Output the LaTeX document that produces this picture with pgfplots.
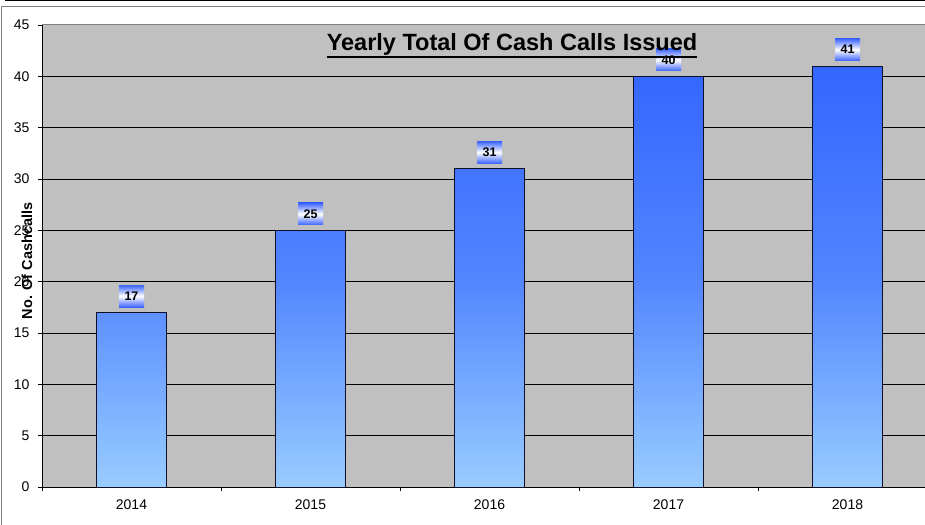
\documentclass[border=0pt]{standalone}
\usepackage{fontspec}
\setmainfont{Liberation Sans}
\usepackage{pgfplots}
\pgfplotsset{compat=1.18}
\definecolor{barTop}{RGB}{51,102,255}
\definecolor{barBot}{RGB}{153,204,255}
\definecolor{barEdge}{RGB}{15,15,40}
\definecolor{plotBg}{RGB}{192,192,192}
\definecolor{frameGray}{RGB}{128,128,128}
\definecolor{lblBlue}{RGB}{60,100,255}

\begin{document}
\begin{tikzpicture}[x=1pt,y=1pt]
\useasboundingbox (0,0) rectangle (925,524);
% outer frame
\draw[black, line width=1.2pt] (5,523.4) -- (930,523.4);
\draw[frameGray, line width=1pt] (1.5,-5) -- (1.5,517) -- (930,517);

\begin{axis}[
  at={(42pt,37pt)}, anchor=south west,
  scale only axis, width=883pt, height=462pt,
  xmin=-0.5, xmax=4.433, ymin=0, ymax=45,
  axis background/.style={fill=plotBg},
  axis x line*=bottom, axis y line*=left,
  axis line style={black, line width=1pt},
  tick align=outside, xtick pos=bottom, ytick pos=left,
  major tick length=4pt,
  tick style={black, line width=0.8pt},
  ytick={0,5,...,40},
  extra y ticks={45},
  extra y tick style={grid=none},
  ymajorgrids=true,
  grid style={black, line width=0.8pt},
  xtick={-0.5,0.5,1.5,2.5,3.5},
  xticklabels={},
  extra x ticks={0,1,2,3,4},
  extra x tick labels={2014,2015,2016,2017,2018},
  extra x tick style={major tick length=0pt, grid=none},
  ticklabel style={font=\fontsize{14}{16}\selectfont},
  xticklabel style={yshift=-9pt},
  yticklabel style={xshift=-5pt},
  /pgf/number format/assume math mode=true,
  clip=false,
]
\addplot[ybar, bar width=0.39, draw=barEdge, line width=0.8pt,
  top color=barTop, bottom color=barBot, middle color=barTop!70!barBot,
  nodes near coords,
  nodes near coords style={font=\bfseries\fontsize{12.5}{14}\selectfont, text=black,
    top color=lblBlue, bottom color=lblBlue, middle color=white,
    minimum width=25pt, minimum height=22pt, inner sep=0pt,
    anchor=south, yshift=5pt}]
  coordinates {(0,17) (1,25) (2,31) (3,40) (4,41)};
\draw[frameGray, line width=1pt] (axis cs:-0.5,45) -- (axis cs:4.433,45);
\end{axis}

% title
\node[anchor=base, inner sep=0pt, font=\bfseries\fontsize{23.5}{27}\selectfont] (t) at (512,473.3) {Yearly Total Of Cash Calls Issued};
\draw[black, line width=1.8pt] ([yshift=-6pt]t.base west) -- ([yshift=-6pt]t.base east);
% y label
\node[rotate=90, font=\bfseries\fontsize{14.5}{17}\selectfont] at (27,263) {No. Of Cashcalls};
\end{tikzpicture}
\end{document}
